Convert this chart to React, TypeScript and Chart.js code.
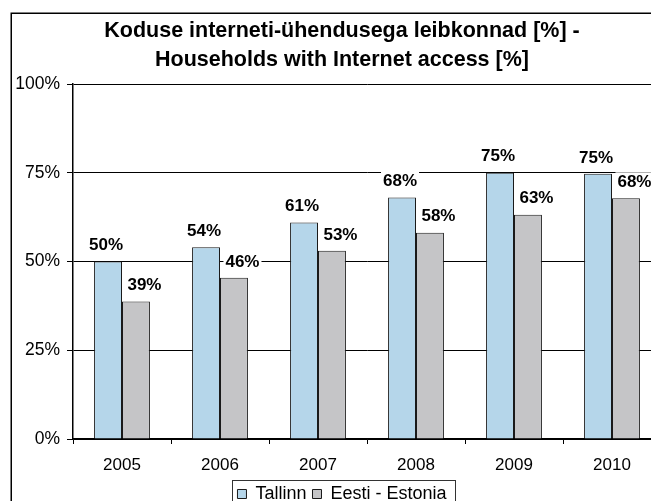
import React, { useEffect, useRef } from "react";
import { Chart, registerables } from "chart.js";

Chart.register(...registerables);

const years = ["2005", "2006", "2007", "2008", "2009", "2010"];
const tallinn = [50, 54, 61, 68, 75, 74.7];
const estonia = [38.7, 45.4, 53, 58.1, 63.2, 67.8];
const tallinnLabels = ["50%", "54%", "61%", "68%", "75%", "75%"];
const estoniaLabels = ["39%", "46%", "53%", "58%", "63%", "68%"];
const yTicks = [0, 25, 50, 75, 100];
const titleLines = [
  "Koduse interneti-ühendusega leibkonnad [%] -",
  "Households with Internet access [%]",
];
const seriesNames = ["Tallinn", "Eesti - Estonia"];

const FONT = "'Liberation Sans', Arial, Helvetica, sans-serif";

const framePlugin = {
  id: "frame",
  afterDraw(chart: any) {
    const ctx = chart.ctx;
    ctx.save();
    ctx.strokeStyle = "#000";
    ctx.lineWidth = 1.5;
    ctx.strokeRect(3.25, 5.25, 660, 500);
    const boxes = chart.legend && chart.legend.legendHitBoxes;
    if (boxes && boxes.length) {
      let l = Infinity, r = -Infinity, t = Infinity;
      boxes.forEach((b: any) => {
        l = Math.min(l, b.left);
        r = Math.max(r, b.left + b.width);
        t = Math.min(t, b.top);
      });
      ctx.lineWidth = 1;
      ctx.strokeStyle = "#333";
      ctx.strokeRect(Math.round(l - 5) + 0.5, Math.round(t - 5) + 0.5, Math.round(r - l + 14), 40);
    }
    ctx.restore();
  },
};

const labelPlugin = {
  id: "barLabels",
  afterDatasetsDraw(chart: any) {
    const ctx = chart.ctx;
    ctx.save();
    ctx.font = `bold 17px ${FONT}`;
    ctx.textAlign = "center";
    ctx.textBaseline = "middle";
    const sets = [
      { idx: 0, labels: tallinnLabels, dx: -2 },
      { idx: 1, labels: estoniaLabels, dx: 8.5 },
    ];
    sets.forEach((s) => {
      const meta = chart.getDatasetMeta(s.idx);
      meta.data.forEach((el: any, i: number) => {
        const text = s.labels[i];
        const x = el.x + s.dx;
        const y = el.y - 17;
        const w = ctx.measureText(text).width;
        ctx.fillStyle = "#fff";
        ctx.fillRect(x - w / 2 - 2, y - 9, w + 4, 18);
        ctx.fillStyle = "#000";
        ctx.fillText(text, x, y + 1);
      });
    });
    ctx.restore();
  },
};

export default function App() {
  const ref = useRef<HTMLCanvasElement>(null);
  useEffect(() => {
    if (!ref.current) return;
    Chart.defaults.color = "#000";
    Chart.defaults.font.family = FONT;
    const chart = new Chart(ref.current, {
      type: "bar",
      data: {
        labels: years,
        datasets: [
          {
            label: seriesNames[0],
            data: tallinn,
            backgroundColor: "#B5D6EA",
            borderColor: "#1a1a1a",
            borderWidth: 1,
            categoryPercentage: 0.57,
            barPercentage: 1,
          },
          {
            label: seriesNames[1],
            data: estonia,
            backgroundColor: "#C5C5C7",
            borderColor: "#1a1a1a",
            borderWidth: 1,
            categoryPercentage: 0.57,
            barPercentage: 1,
          },
        ],
      },
      options: {
        responsive: false,
        animation: false,
        layout: { padding: { top: 0, left: 0, right: 0, bottom: 5 } },
        plugins: {
          title: {
            display: true,
            text: titleLines,
            color: "#000",
            font: { size: 21.5, weight: "bold", family: FONT, lineHeight: "29px" },
            padding: { top: 8.5, bottom: 9.5 },
          },
          legend: {
            position: "bottom",
            labels: {
              boxWidth: 9,
              boxHeight: 9,
              padding: 6,
              color: "#000",
              font: { size: 18, family: FONT },
            },
          },
          tooltip: { enabled: false },
        },
        scales: {
          x: {
            afterFit(scale: any) {
              scale.height = 40;
            },
            grid: {
              display: true,
              drawOnChartArea: false,
              drawTicks: true,
              tickLength: 5,
              color: "#000",
              offset: true,
            },
            border: { display: true, color: "#000", width: 1.5 },
            ticks: { color: "#000", padding: 11, font: { size: 17, family: FONT } },
          },
          y: {
            min: 0,
            max: 100,
            afterFit(scale: any) {
              scale.width = 65;
            },
            afterBuildTicks(scale: any) {
              scale.ticks = yTicks.map((v) => ({ value: v }));
            },
            grid: {
              color: "#000",
              lineWidth: 1,
              drawTicks: true,
              tickLength: 6,
            },
            border: { display: true, color: "#000", width: 1.5 },
            ticks: {
              color: "#000",
              padding: 7,
              font: { size: 17.5, family: FONT },
              callback: (v: any) => `${v}%`,
            },
          },
          spacer: {
            type: "linear",
            position: "right",
            display: true,
            afterFit(scale: any) {
              scale.width = 15;
            },
            grid: { display: false, drawTicks: false },
            border: { display: false },
            ticks: { display: false },
          },
        },
      },
      plugins: [labelPlugin, framePlugin],
    });
    return () => chart.destroy();
  }, []);
  return (
    <div style={{ width: 651, height: 493, overflow: "hidden", position: "relative" }}>
      <style>{`html,body{overflow:hidden}`}</style>
      <canvas ref={ref} width={668} height={510} style={{ display: "block" }} />
    </div>
  );
}
